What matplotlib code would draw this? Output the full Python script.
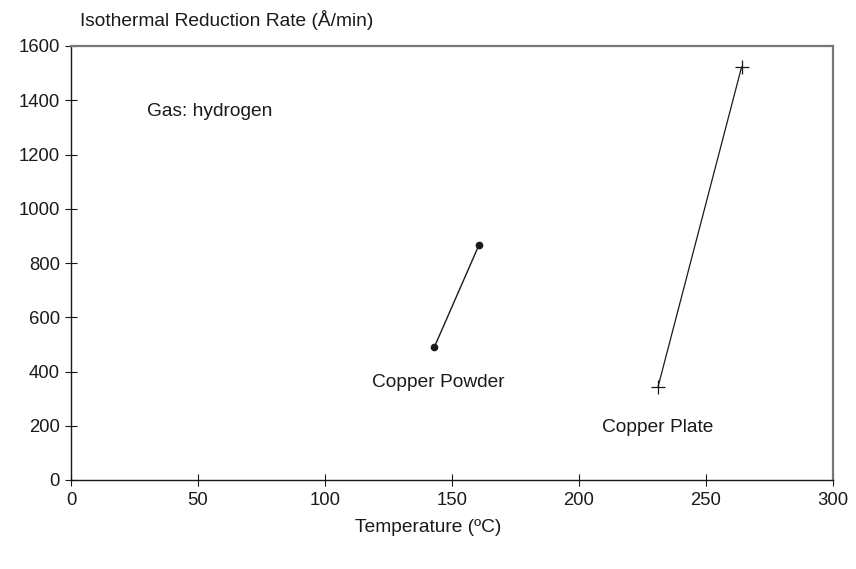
import matplotlib
matplotlib.use("Agg")
import matplotlib.pyplot as plt
from matplotlib import font_manager

fams = [f.name for f in font_manager.fontManager.ttflist]
fam = 'Liberation Sans Narrow' if 'Liberation Sans Narrow' in fams else 'Liberation Sans'
plt.rcParams['font.family'] = [fam, 'DejaVu Sans']

powder_temp = [143.0, 160.6]
powder_rate = [489, 866]
plate_temp = [231.1, 264.0]
plate_rate = [343, 1522]
xticks = [0, 50, 100, 150, 200, 250, 300]
yticks = [0, 200, 400, 600, 800, 1000, 1200, 1400, 1600]

fig = plt.figure(figsize=(8.56, 5.69), dpi=100)
ax = fig.add_axes([71/856, 1-480/569, (833-71)/856, (480-46)/569])

ax.plot(powder_temp, powder_rate, color='#1a1a1a', lw=1.0, marker='o', ms=4.5)
ax.plot(plate_temp, plate_rate, color='#1a1a1a', lw=0.9, marker='+', ms=10, mew=0.9)

ax.set_xlim(0, 300)
ax.set_ylim(0, 1600)
ax.set_xticks(xticks)
ax.set_yticks(yticks)
ax.tick_params(direction='inout', length=9, width=0.8, labelsize=13.3, colors='#1a1a1a')
ax.tick_params(axis='x', pad=4)
for s in ['left', 'bottom']:
    ax.spines[s].set_color('#1a1a1a')
    ax.spines[s].set_linewidth(1.0)
for s in ['top', 'right']:
    ax.spines[s].set_color('#777777')
    ax.spines[s].set_linewidth(1.6)

fs = 13.8
ax.text(30, 1360, 'Gas: hydrogen', fontsize=fs, va='center', ha='left', color='#1a1a1a')
ax.text(118.5, 361, 'Copper Powder', fontsize=fs, va='center', ha='left', color='#1a1a1a')
ax.text(209, 192, 'Copper Plate', fontsize=fs, va='center', ha='left', color='#1a1a1a')

fig.text(80/856, 1-20/569, 'Isothermal Reduction Rate (Å/min)', fontsize=fs, va='center', ha='left', color='#1a1a1a')
fig.text(428/856, 1-528/569, 'Temperature (ºC)', fontsize=fs, va='center', ha='center', color='#1a1a1a')

fig.savefig('out.png', dpi=100)
